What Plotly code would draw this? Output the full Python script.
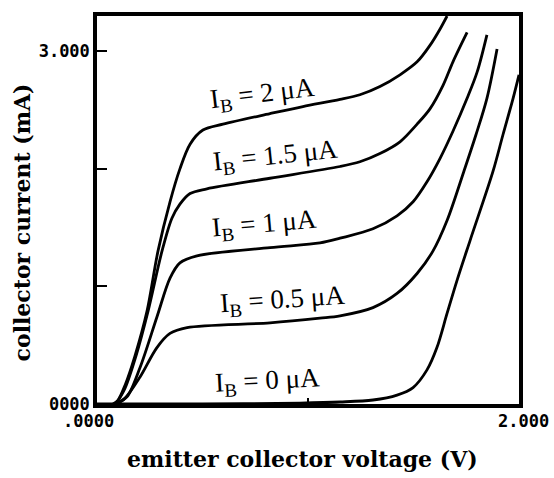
import plotly.graph_objects as go

v_ib2 = [0.076, 0.100, 0.133, 0.180, 0.237, 0.289, 0.346, 0.393, 0.441, 0.502, 0.597, 0.820, 0.976, 1.152, 1.246, 1.341, 1.436, 1.517, 1.578, 1.626, 1.659]
i_ib2 = [0.0, 0.034, 0.16, 0.41, 0.79, 1.30, 1.72, 2.00, 2.21, 2.33, 2.38, 2.47, 2.53, 2.59, 2.63, 2.70, 2.80, 2.91, 3.05, 3.19, 3.30]

v_ib15 = [0.090, 0.133, 0.185, 0.242, 0.308, 0.355, 0.393, 0.441, 0.521, 0.820, 1.152, 1.246, 1.341, 1.436, 1.517, 1.578, 1.640, 1.687, 1.754]
i_ib15 = [0.0, 0.135, 0.41, 0.79, 1.30, 1.58, 1.70, 1.79, 1.83, 1.92, 2.02, 2.06, 2.13, 2.23, 2.38, 2.51, 2.71, 2.91, 3.16]

v_ib1 = [0.090, 0.142, 0.204, 0.284, 0.346, 0.393, 0.474, 0.820, 1.057, 1.152, 1.308, 1.422, 1.498, 1.564, 1.626, 1.687, 1.754, 1.801, 1.848]
i_ib1 = [0.0, 0.06, 0.31, 0.74, 1.07, 1.20, 1.26, 1.33, 1.37, 1.41, 1.49, 1.60, 1.72, 1.89, 2.09, 2.32, 2.60, 2.82, 3.14]

v_ib05 = [0.090, 0.133, 0.204, 0.284, 0.346, 0.427, 0.820, 1.057, 1.152, 1.308, 1.422, 1.517, 1.592, 1.659, 1.739, 1.796, 1.848, 1.896]
i_ib05 = [0.0, 0.05, 0.23, 0.48, 0.60, 0.65, 0.69, 0.73, 0.75, 0.82, 0.94, 1.11, 1.30, 1.56, 1.98, 2.29, 2.60, 3.02]

v_ib0 = [0.0, 0.500, 0.962, 1.152, 1.308, 1.422, 1.498, 1.564, 1.611, 1.659, 1.706, 1.768, 1.877, 1.924, 1.972, 2.0]
i_ib0 = [0.0, 0.0, 0.008, 0.017, 0.034, 0.076, 0.14, 0.29, 0.48, 0.77, 1.05, 1.39, 1.98, 2.29, 2.60, 2.80]

series = [(v_ib2, i_ib2), (v_ib15, i_ib15), (v_ib1, i_ib1), (v_ib05, i_ib05), (v_ib0, i_ib0)]

# Curve labels
label_text = ["I<sub>B</sub> = 2 μA", "I<sub>B</sub> = 1.5 μA", "I<sub>B</sub> = 1 μA",
              "I<sub>B</sub> = 0.5 μA", "I<sub>B</sub> = 0 μA"]
label_v = [0.782, 0.844, 0.796, 0.877, 0.810]
label_i = [2.63, 2.10, 1.52, 0.88, 0.19]
label_angle = [-7, -6, -5, -4, -3]

# Axis tick labels
x_tickvals = [0, 1, 2]
x_ticktext = [".0000", "", "2.000"]
y_tickvals = [0, 1, 2, 3]
y_ticktext = ["0000", "", "", "3.000"]

x_title = "emitter collector voltage (V)"
y_title = "collector current (mA)"

mono = dict(family="DejaVu Sans Mono", size=17, color="black", weight="bold")

fig = go.Figure()
for v, i in series:
    fig.add_trace(go.Scatter(x=v, y=i, mode="lines",
                             line=dict(color="black", width=2.8, shape="spline", smoothing=0.9),
                             showlegend=False, hoverinfo="skip"))

for t, xv, yv, a in zip(label_text, label_v, label_i, label_angle):
    fig.add_annotation(x=xv, y=yv, text=t, showarrow=False, textangle=a,
                       font=dict(family="Liberation Serif", size=27, color="black"))

# x tick labels (the originals sit slightly off-centre from their ticks)
for xv, t in zip(x_tickvals, x_ticktext):
    if t:
        fig.add_annotation(x=xv, y=0, yref="y", text=t, showarrow=False,
                           xanchor="center", yanchor="middle",
                           xshift=-9 if xv == 0 else 4, yshift=-17, font=mono)

fig.add_annotation(xref="paper", yref="paper", x=0.486, y=0, yshift=-55, text=x_title,
                   showarrow=False, xanchor="center", yanchor="middle",
                   font=dict(family="DejaVu Serif", size=22, color="black", weight="bold"))
fig.add_annotation(xref="paper", yref="paper", x=0, y=0.468, xshift=-75, text=y_title,
                   showarrow=False, textangle=-90, xanchor="center", yanchor="middle",
                   font=dict(family="DejaVu Serif", size=22, color="black", weight="bold"))

fig.update_xaxes(range=[0, 2], showgrid=False, zeroline=False, showline=True, mirror=True,
                 linecolor="black", linewidth=3.5, ticks="inside", ticklen=6, tickwidth=2,
                 tickcolor="black", tickvals=x_tickvals, showticklabels=False)
fig.update_yaxes(range=[0, 3.30], showgrid=False, zeroline=False, showline=True, mirror=True,
                 linecolor="black", linewidth=3.5, ticks="inside", ticklen=10, tickwidth=2,
                 tickcolor="black", tickvals=y_tickvals, ticktext=y_ticktext, tickfont=mono)

fig.update_layout(width=554, height=478, margin=dict(l=97, r=35, t=13, b=74),
                  plot_bgcolor="white", paper_bgcolor="white")

fig.write_html("out.html")
